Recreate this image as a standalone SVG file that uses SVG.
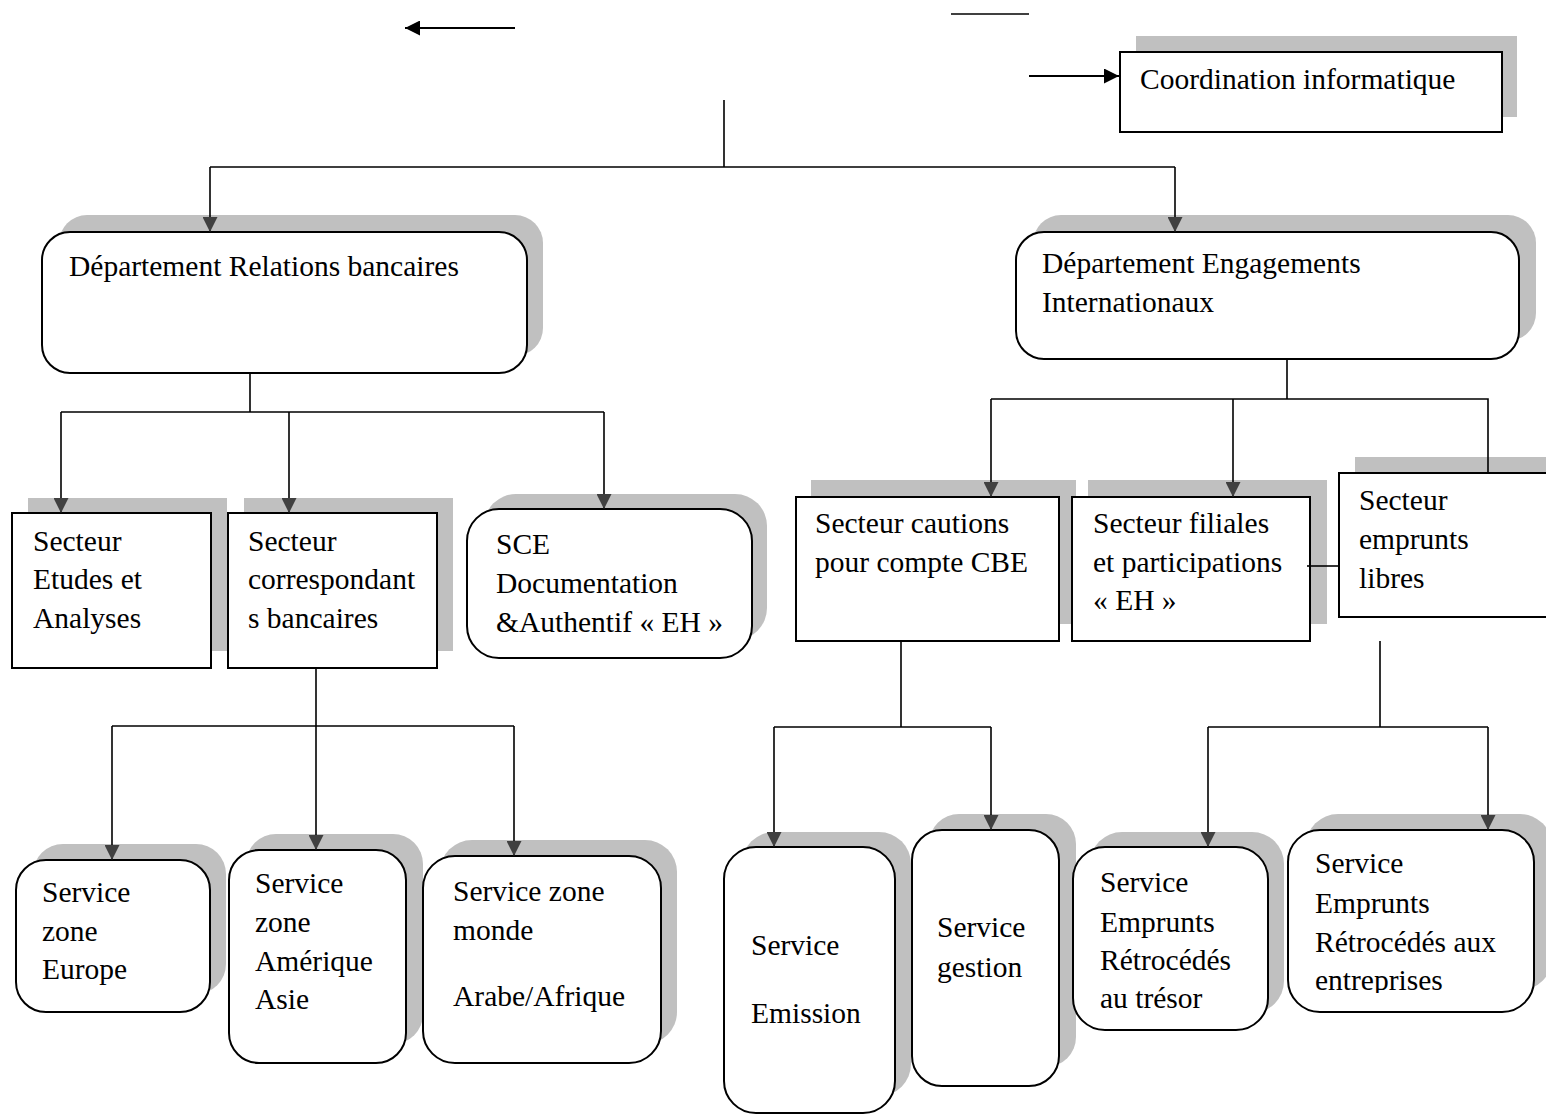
<svg xmlns="http://www.w3.org/2000/svg" width="1546" height="1115" viewBox="0 0 1546 1115">
<defs>
<style>
.sh{fill:#c0c0c0}
.bx{fill:#fff;stroke:#000;stroke-width:2}
.t{font-family:"Liberation Serif","Times New Roman",serif;font-size:29.5px;fill:#000}
.c{fill:none;stroke:#000;stroke-width:1.6}
.ca{fill:none;stroke:#000;stroke-width:1.6;marker-end:url(#ah)}
.cb{fill:none;stroke:#000;stroke-width:2;marker-end:url(#ahb)}
</style>
<marker id="ah" viewBox="0 0 16 16" refX="16" refY="8" markerWidth="16" markerHeight="15" markerUnits="userSpaceOnUse" orient="auto">
<path d="M0,0 L16,8 L0,16 z" fill="#404040"/>
</marker>
<marker id="ahb" viewBox="0 0 16 16" refX="16" refY="8" markerWidth="16" markerHeight="15" markerUnits="userSpaceOnUse" orient="auto">
<path d="M0,0 L16,8 L0,16 z" fill="#000"/>
</marker>
<clipPath id="clipEnt"><rect x="1288" y="830" width="246" height="163"/></clipPath>
</defs>
<rect width="1546" height="1115" fill="#fff"/>

<g id="coordination-informatique">
<rect class="sh" x="1136" y="36" width="381" height="81"/>
<rect class="bx" x="1120" y="52" width="382" height="80"/>
<text class="t" x="1140" y="89">Coordination informatique</text>
</g>

<g id="dept-relations-bancaires">
<rect class="sh" x="59" y="215" width="484" height="141" rx="28"/>
<rect class="bx" x="42" y="232" width="485" height="141" rx="28"/>
<text class="t" x="69" y="276">Département Relations bancaires</text>
</g>

<g id="dept-engagements-internationaux">
<rect class="sh" x="1033" y="215" width="503" height="126" rx="28"/>
<rect class="bx" x="1016" y="232" width="503" height="127" rx="28"/>
<text class="t" x="1042" y="273">Département Engagements</text>
<text class="t" x="1042" y="312">Internationaux</text>
</g>

<g id="secteur-etudes">
<rect class="sh" x="28" y="498" width="199" height="153"/>
<rect class="bx" x="12" y="513" width="199" height="155"/>
<text class="t" x="33" y="551">Secteur</text>
<text class="t" x="33" y="589">Etudes et</text>
<text class="t" x="33" y="628">Analyses</text>
</g>

<g id="secteur-correspondants">
<rect class="sh" x="244" y="498" width="209" height="153"/>
<rect class="bx" x="228" y="513" width="209" height="155"/>
<text class="t" x="248" y="551">Secteur</text>
<text class="t" x="248" y="589">correspondant</text>
<text class="t" x="248" y="628">s bancaires</text>
</g>

<g id="sce-documentation">
<rect class="sh" x="484" y="494" width="283" height="146" rx="32"/>
<rect class="bx" x="467" y="509" width="285" height="149" rx="32"/>
<text class="t" x="496" y="554">SCE</text>
<text class="t" x="496" y="593">Documentation</text>
<text class="t" x="496" y="632">&amp;Authentif « EH »</text>
</g>

<g id="secteur-cautions">
<rect class="sh" x="811" y="480" width="265" height="144"/>
<rect class="bx" x="796" y="497" width="263" height="144"/>
<text class="t" x="815" y="533">Secteur cautions</text>
<text class="t" x="815" y="572">pour compte CBE</text>
</g>

<g id="secteur-filiales">
<rect class="sh" x="1088" y="480" width="239" height="144"/>
<rect class="bx" x="1072" y="497" width="238" height="144"/>
<text class="t" x="1093" y="533">Secteur filiales</text>
<text class="t" x="1093" y="572">et participations</text>
<text class="t" x="1093" y="610">« EH »</text>
</g>

<g id="secteur-emprunts">
<rect class="sh" x="1355" y="457" width="210" height="144"/>
<rect class="bx" x="1339" y="473" width="230" height="144"/>
<text class="t" x="1359" y="510">Secteur</text>
<text class="t" x="1359" y="549">emprunts</text>
<text class="t" x="1359" y="588">libres</text>
</g>

<g id="service-europe">
<rect class="sh" x="33" y="844" width="193" height="150" rx="30"/>
<rect class="bx" x="16" y="860" width="194" height="152" rx="30"/>
<text class="t" x="42" y="902">Service</text>
<text class="t" x="42" y="941">zone</text>
<text class="t" x="42" y="979">Europe</text>
</g>

<g id="service-amerique-asie">
<rect class="sh" x="246" y="834" width="177" height="210" rx="30"/>
<rect class="bx" x="229" y="850" width="177" height="213" rx="30"/>
<text class="t" x="255" y="893">Service</text>
<text class="t" x="255" y="932">zone</text>
<text class="t" x="255" y="971">Amérique</text>
<text class="t" x="255" y="1009">Asie</text>
</g>

<g id="service-monde">
<rect class="sh" x="440" y="840" width="237" height="204" rx="32"/>
<rect class="bx" x="423" y="856" width="238" height="207" rx="32"/>
<text class="t" x="453" y="901">Service zone</text>
<text class="t" x="453" y="940">monde</text>
<text class="t" x="453" y="1006">Arabe/Afrique</text>
</g>

<g id="service-emission">
<rect class="sh" x="742" y="832" width="169" height="264" rx="32"/>
<rect class="bx" x="724" y="847" width="171" height="266" rx="32"/>
<text class="t" x="751" y="955">Service</text>
<text class="t" x="751" y="1023">Emission</text>
</g>

<g id="service-gestion">
<rect class="sh" x="929" y="814" width="147" height="253" rx="30"/>
<rect class="bx" x="912" y="830" width="147" height="256" rx="30"/>
<text class="t" x="937" y="937">Service</text>
<text class="t" x="937" y="977">gestion</text>
</g>

<g id="service-tresor">
<rect class="sh" x="1090" y="832" width="194" height="181" rx="32"/>
<rect class="bx" x="1073" y="847" width="195" height="183" rx="32"/>
<text class="t" x="1100" y="892">Service</text>
<text class="t" x="1100" y="932">Emprunts</text>
<text class="t" x="1100" y="970">Rétrocédés</text>
<text class="t" x="1100" y="1008">au trésor</text>
</g>

<g id="service-entreprises">
<rect class="sh" x="1306" y="814" width="246" height="176" rx="32"/>
<rect class="bx" x="1288" y="830" width="246" height="182" rx="32"/>
<g clip-path="url(#clipEnt)">
<text class="t" x="1315" y="873">Service</text>
<text class="t" x="1315" y="913">Emprunts</text>
<text class="t" x="1315" y="952">Rétrocédés aux</text>
<text class="t" x="1315" y="990">entreprises</text>
</g>
</g>

<g id="connectors">
<path class="cb" d="M515,28 H405"/>
<path class="c" d="M951,14 H1029"/>
<path class="cb" d="M1029,76 H1119"/>
<path class="c" d="M724,100 V167 M210,167 H1175"/>
<path class="ca" d="M210,167 V232"/>
<path class="ca" d="M1175,167 V232"/>
<path class="c" d="M250,373 V412 M61,412 H604"/>
<path class="ca" d="M61,412 V513"/>
<path class="ca" d="M289,412 V513"/>
<path class="ca" d="M604,412 V509"/>
<path class="ca" d="M316,668 V850"/>
<path class="c" d="M112,726 H514"/>
<path class="ca" d="M112,726 V860"/>
<path class="ca" d="M514,726 V856"/>
<path class="c" d="M1287,359 V399 M991,399 H1488 V473"/>
<path class="ca" d="M991,399 V497"/>
<path class="ca" d="M1233,399 V497"/>
<path class="c" d="M1307,566 H1339"/>
<path class="c" d="M901,641 V727 M774,727 H991"/>
<path class="ca" d="M774,727 V847"/>
<path class="ca" d="M991,727 V830"/>
<path class="c" d="M1380,641 V727 M1208,727 H1488"/>
<path class="ca" d="M1208,727 V847"/>
<path class="ca" d="M1488,727 V830"/>
</g>
</svg>
